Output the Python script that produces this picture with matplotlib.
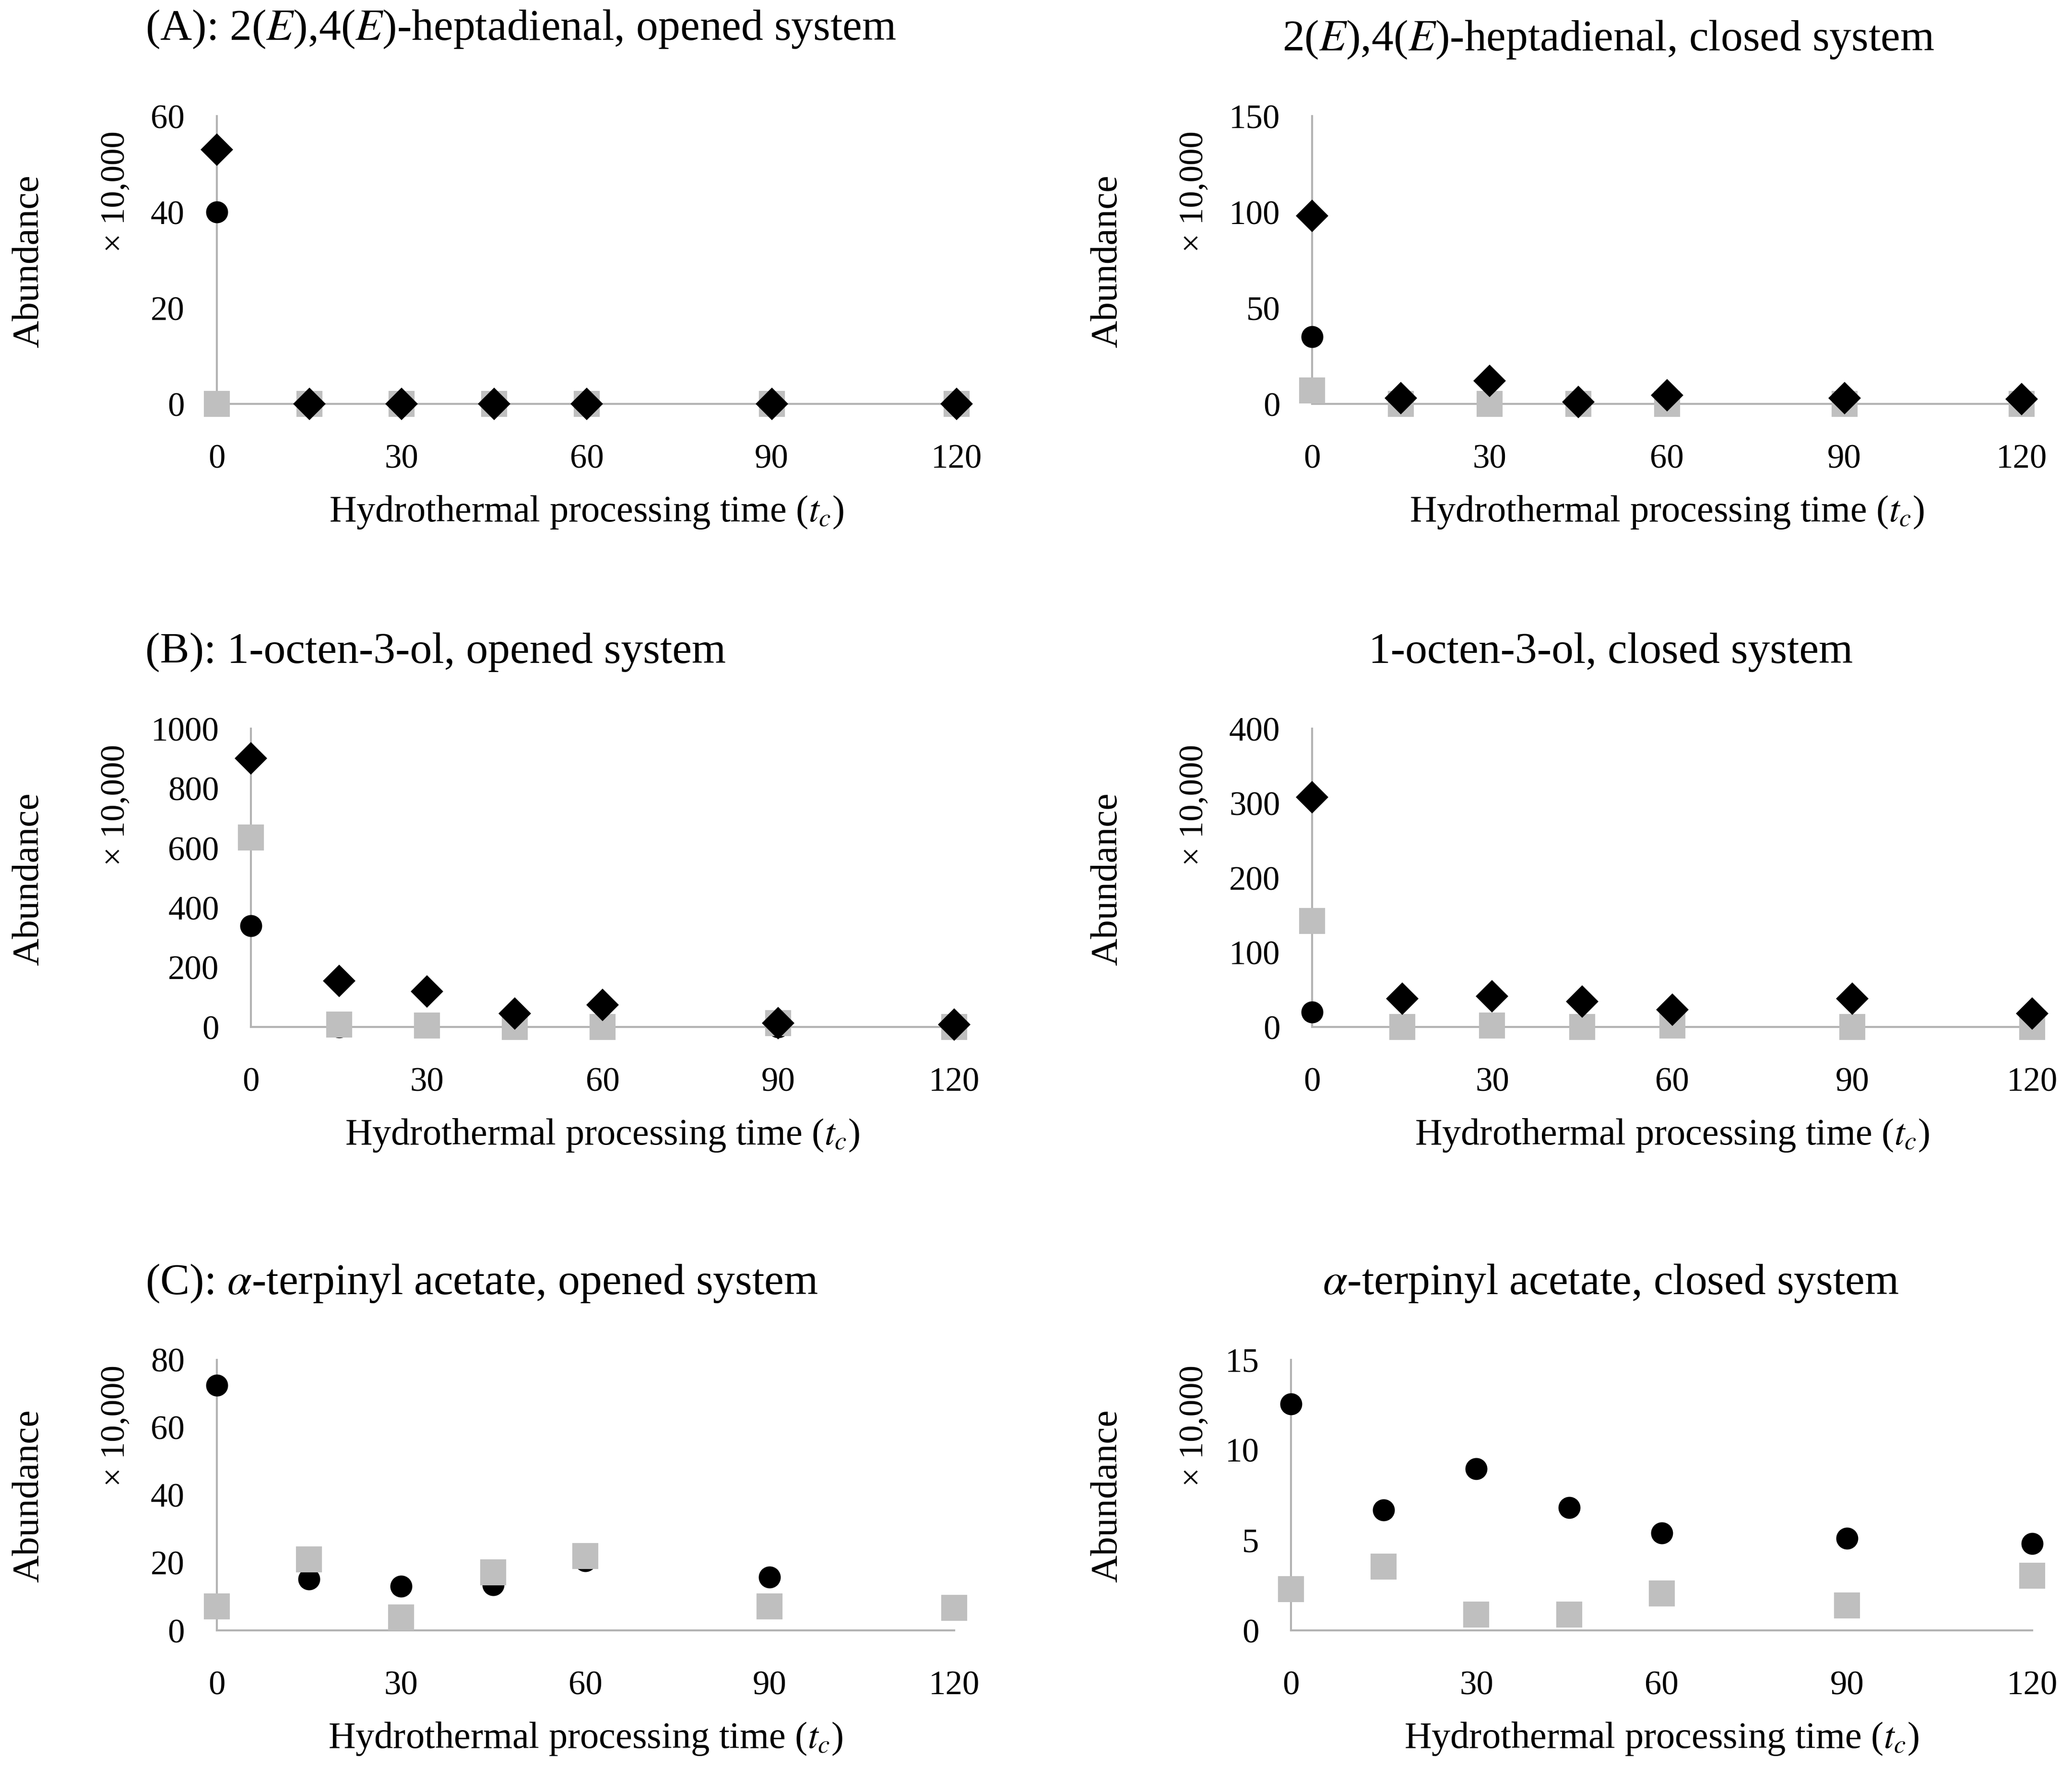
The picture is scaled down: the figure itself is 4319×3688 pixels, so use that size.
import matplotlib
matplotlib.use("Agg")
import matplotlib.pyplot as plt

plt.rcParams['font.family'] = ['Liberation Serif', 'DejaVu Serif']
plt.rcParams['mathtext.fontset'] = 'stix'

# ---- data ----
times = [0, 15, 30, 45, 60, 90, 120]
x_ticks = [0, 30, 60, 90, 120]

A_open_circle = [40, 0, 0, 0, 0, 0, 0]
A_open_square = [0, 0, 0, 0, 0, 0, 0]
A_open_diamond = [53, 0, 0, 0, 0, 0, 0]

A_closed_circle = [35, 0, 0, 0, 0, 0, 0]
A_closed_square = [7, 0, 0, 0, 0, 0, 0]
A_closed_diamond = [98, 3, 12, 1, 4.5, 3, 2.5]

B_open_circle = [340, 0, 0, 0, 0, 0, 0]
B_open_square = [636, 9, 6, 0, 0, 14, 0]
B_open_diamond = [900, 155, 120, 45, 75, 14, 8]

B_closed_circle = [20, 0, 0, 0, 0, 0, 0]
B_closed_square = [142, 0, 2, 0, 2, 0, 0]
B_closed_diamond = [308, 38, 41, 34, 23, 38, 18]

C_open_circle = [72.5, 15.2, 13, 13.5, 20.5, 15.7, 6.5]
C_open_square = [7.1, 21, 3.9, 17.2, 22, 7.1, 6.6]

C_closed_circle = [12.55, 6.68, 8.96, 6.81, 5.41, 5.1, 4.82]
C_closed_square = [2.3, 3.53, 0.88, 0.88, 2.06, 1.38, 3.04]

titles = [
    r"(A): 2($\it{E}$),4($\it{E}$)-heptadienal, opened system",
    r"2($\it{E}$),4($\it{E}$)-heptadienal, closed system",
    r"(B): 1-octen-3-ol, opened system",
    r"1-octen-3-ol, closed system",
    r"(C): $\alpha$-terpinyl acetate, opened system",
    r"$\alpha$-terpinyl acetate, closed system",
]
y_ticks = [
    [0, 20, 40, 60],
    [0, 50, 100, 150],
    [0, 200, 400, 600, 800, 1000],
    [0, 100, 200, 300, 400],
    [0, 20, 40, 60, 80],
    [0, 5, 10, 15],
]
series = [
    (A_open_circle, A_open_square, A_open_diamond),
    (A_closed_circle, A_closed_square, A_closed_diamond),
    (B_open_circle, B_open_square, B_open_diamond),
    (B_closed_circle, B_closed_square, B_closed_diamond),
    (C_open_circle, C_open_square, None),
    (C_closed_circle, C_closed_square, None),
]
xlabel = r"Hydrothermal processing time ($\it{t}_{c}$)"

# ---- layout (reference coords on a 1568x1340 grid) ----
W, H = 1568.0, 1340.0
# x0, x1, ytop, ybot, title_x, title_y, title_ha
boxes = [
    (164, 724, 88, 306, 110, 22, 'left'),
    (993, 1530, 88, 306, 1217, 30, 'center'),
    (190, 722, 552, 778, 110, 494, 'left'),
    (993, 1538, 552, 778, 1219, 494, 'center'),
    (164, 722, 1030, 1235, 110, 972, 'left'),
    (977, 1538, 1030, 1235, 1219, 972, 'center'),
]
row_label_y = [(198, 145, 388), (666, 610, 860), (1133, 1080, 1317)]

GRAY = '#BFBFBF'
AXC = '#B3B3B3'

fig = plt.figure(figsize=(4319 / 300, 3688 / 300), dpi=300)

for i, (x0, x1, yt, yb, tx, ty, tha) in enumerate(boxes):
    ax = fig.add_axes([x0 / W, 1 - yb / H, (x1 - x0) / W, (yb - yt) / H])
    circ, sq, dia = series[i]
    ax.plot(times, circ, linestyle='none', marker='o', markersize=10,
            color='black', clip_on=False, zorder=3)
    ax.plot(times, sq, linestyle='none', marker='s', markersize=12,
            color=GRAY, clip_on=False, zorder=4)
    if dia is not None:
        ax.plot(times, dia, linestyle='none', marker='D', markersize=10.5,
                color='black', clip_on=False, zorder=5)
    yt_list = y_ticks[i]
    ax.set_xlim(0, 120)
    ax.set_ylim(yt_list[0], yt_list[-1])
    ax.set_xticks(x_ticks)
    ax.set_yticks(yt_list)
    for s in ['top', 'right']:
        ax.spines[s].set_visible(False)
    for s in ['left', 'bottom']:
        ax.spines[s].set_color(AXC)
        ax.spines[s].set_linewidth(1.0)
        ax.spines[s].set_zorder(1)
    ax.tick_params(axis='both', length=0, labelsize=17)
    ax.tick_params(axis='x', pad=20)
    ax.tick_params(axis='y', pad=16)
    ax.patch.set_alpha(0)

    fig.text(tx / W, 1 - ty / H, titles[i], ha=tha, va='center', fontsize=22)

    row = i // 2
    ab_y, mult_y, xl_y = row_label_y[row]
    base = 22 if i % 2 == 0 else 838
    fig.text(base / W, 1 - ab_y / H, "Abundance", rotation=90,
             ha='center', va='center', fontsize=19)
    fig.text((base + 66) / W, 1 - mult_y / H, "× 10,000", rotation=90,
             ha='center', va='center', fontsize=17)
    fig.text(((x0 + x1) / 2) / W, 1 - xl_y / H, xlabel, ha='center',
             va='center', fontsize=18.8)

fig.savefig("out.png", dpi=300, facecolor='white')
